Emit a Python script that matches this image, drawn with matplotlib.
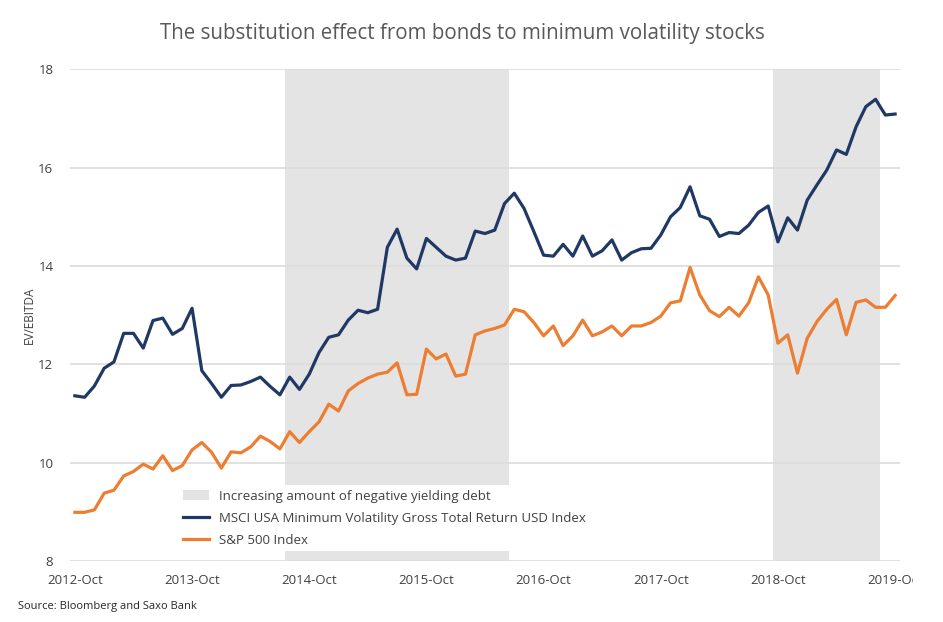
import pandas as pd
import numpy as np
import matplotlib
matplotlib.use('Agg')
import matplotlib.pyplot as plt
from matplotlib.patches import Patch
from matplotlib.lines import Line2D
from matplotlib.transforms import Bbox

plt.rcParams['font.family'] = ['Open Sans', 'DejaVu Sans']

# Monthly EV/EBITDA, Oct 2012 - Oct 2019
months = pd.date_range('2012-10-01', periods=85, freq='MS')

msci_min_vol = [
    11.36, 11.33, 11.56, 11.92, 12.05, 12.63, 12.63, 12.33, 12.89, 12.94,
    12.61, 12.73, 13.14, 11.87, 11.61, 11.33, 11.57, 11.58, 11.65, 11.74,
    11.55, 11.38, 11.74, 11.49, 11.80, 12.24, 12.55, 12.60, 12.90, 13.10,
    13.05, 13.12, 14.38, 14.75, 14.16, 13.94, 14.56, 14.38, 14.20, 14.12,
    14.16, 14.71, 14.66, 14.73, 15.27, 15.48, 15.17, 14.70, 14.22, 14.20,
    14.44, 14.20, 14.61, 14.20, 14.31, 14.53, 14.12, 14.27, 14.35, 14.36,
    14.63, 15.00, 15.19, 15.61, 15.02, 14.95, 14.60, 14.68, 14.66, 14.83,
    15.09, 15.22, 14.49, 14.98, 14.73, 15.34, 15.65, 15.95, 16.36, 16.27,
    16.83, 17.24, 17.39, 17.07, 17.09,
]

sp500 = [
    8.99, 8.99, 9.04, 9.38, 9.44, 9.73, 9.82, 9.97, 9.87, 10.14,
    9.84, 9.94, 10.26, 10.41, 10.21, 9.89, 10.22, 10.20, 10.32, 10.54,
    10.43, 10.28, 10.63, 10.41, 10.63, 10.83, 11.19, 11.05, 11.46, 11.61,
    11.72, 11.80, 11.84, 12.03, 11.38, 11.39, 12.31, 12.11, 12.21, 11.76,
    11.80, 12.60, 12.68, 12.73, 12.80, 13.12, 13.07, 12.85, 12.58, 12.78,
    12.38, 12.58, 12.90, 12.58, 12.66, 12.78, 12.58, 12.78, 12.78, 12.85,
    12.98, 13.25, 13.29, 13.97, 13.41, 13.09, 12.97, 13.16, 12.98, 13.25,
    13.78, 13.41, 12.43, 12.60, 11.82, 12.53, 12.87, 13.12, 13.32, 12.60,
    13.26, 13.31, 13.16, 13.16, 13.40,
]

# periods with increasing amount of negative yielding debt (first, last month)
neg_debt_periods = [('2014-08', '2016-06'), ('2018-10', '2019-08')]

tick_labels = ['2012-Oct', '2013-Oct', '2014-Oct', '2015-Oct',
               '2016-Oct', '2017-Oct', '2018-Oct', '2019-Oct']

navy = '#1f3864'
orange = '#ed7d31'
shade = '#e4e4e4'
text_col = '#404040'

fig = plt.figure(figsize=(9.43, 6.22), dpi=100)
ax = fig.add_axes([70 / 943, 1 - 561 / 622, 830 / 943, (561 - 69.3) / 622])

x = np.arange(len(months))
month_str = list(months.strftime('%Y-%m'))

for start, end in neg_debt_periods:
    i0 = month_str.index(start)
    i1 = month_str.index(end)
    ax.axvspan(i0 - 0.5, i1 + 0.5, color=shade, lw=0, zorder=0.2)

ax.plot(x, msci_min_vol, color=navy, lw=2.3, zorder=3)
ax.plot(x, sp500, color=orange, lw=2.3, zorder=3)

ax.set_xlim(-0.5, len(months) - 0.5)
ax.set_ylim(8, 18)
ax.set_yticks([8, 10, 12, 14, 16, 18])
ax.set_xticks(x[::12])
ax.set_xticklabels(tick_labels)

ax.set_axisbelow(True)
ax.yaxis.grid(True, color='#dcdcdc', lw=1.2)
for s in ax.spines.values():
    s.set_visible(False)
ax.tick_params(length=0, labelsize=9.5, labelcolor=text_col)
ax.tick_params(axis='y', pad=12)
ax.tick_params(axis='x', pad=9)

# last label is cut off at the chart edge
fig.canvas.draw()
last = ax.get_xticklabels()[-1]
last.set_clip_on(True)
last.set_clip_box(Bbox([[0, 0], [913, 622]]))

ax.set_ylabel('EV/EBITDA', fontsize=8.5, color=text_col, labelpad=2)

fig.text(0.49, 1 - 33 / 622, 'The substitution effect from bonds to minimum volatility stocks',
         ha='center', va='center', fontsize=14.8, color='#595959')
fig.text(18 / 943, 1 - 606 / 622, 'Source: Bloomberg and Saxo Bank',
         ha='left', va='center', fontsize=8, color='#262626')

handles = [
    Patch(facecolor=shade, edgecolor='none'),
    Line2D([0], [0], color=navy, lw=2.3),
    Line2D([0], [0], color=orange, lw=2.3),
]
labels = ['Increasing amount of negative yielding debt',
          'MSCI USA Minimum Volatility Gross Total Return USD Index',
          'S&P 500 Index']
leg = ax.legend(handles, labels, loc='upper left',
                bbox_to_anchor=(178 / 943, 1 - 485 / 622), bbox_transform=fig.transFigure,
                frameon=True, fancybox=False, framealpha=1, edgecolor='none',
                facecolor='white', fontsize=9.5, handlelength=2.0,
                handletextpad=0.75, labelspacing=0.68, borderpad=0.35, borderaxespad=0)
for t in leg.get_texts():
    t.set_color(text_col)

fig.savefig('out.png', dpi=100)
